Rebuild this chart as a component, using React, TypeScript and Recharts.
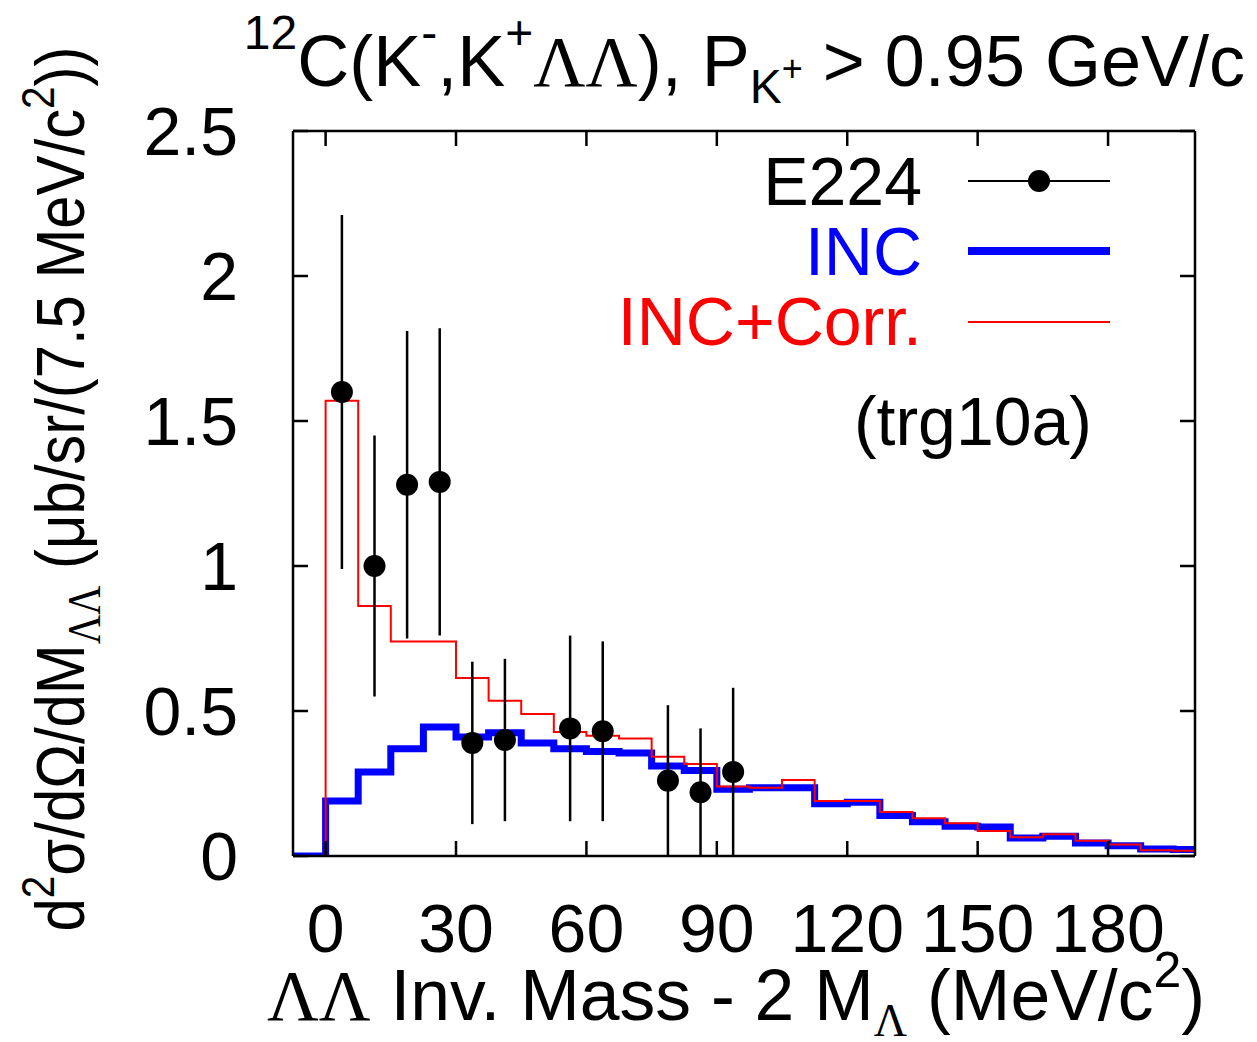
import React from 'react';
import { ComposedChart, Line, Scatter, ErrorBar, XAxis, YAxis } from 'recharts';

// histogram bin edges (MeV/c^2); last edge closes the final bin
const binEdges = [-7.5, 0, 7.5, 15, 22.5, 30, 37.5, 45, 52.5, 60, 67.5, 75, 82.5, 90, 97.5, 105, 112.5, 120, 127.5, 135, 142.5, 150, 157.5, 165, 172.5, 180, 187.5, 195, 200];
const incValues = [0, 0.19, 0.29, 0.37, 0.445, 0.41, 0.425, 0.39, 0.37, 0.36, 0.355, 0.31, 0.295, 0.23, 0.235, 0.235, 0.18, 0.185, 0.14, 0.118, 0.103, 0.1, 0.062, 0.068, 0.045, 0.035, 0.024, 0.022, 0.022];
const corrValues = [0, 1.57, 0.862, 0.74, 0.74, 0.614, 0.535, 0.49, 0.428, 0.415, 0.405, 0.342, 0.317, 0.24, 0.235, 0.262, 0.19, 0.19, 0.152, 0.13, 0.113, 0.086, 0.065, 0.075, 0.053, 0.04, 0.02, 0.018, 0.018];

// E224 data
const e224Mass = [3.75, 11.25, 18.75, 26.25, 33.75, 41.25, 56.25, 63.75, 78.75, 86.25, 93.75];
const e224Value = [1.6, 1.0, 1.28, 1.29, 0.39, 0.4, 0.44, 0.43, 0.26, 0.22, 0.29];
const e224Error = [0.61, 0.45, 0.53, 0.53, 0.28, 0.28, 0.32, 0.31, 0.26, 0.22, 0.29];

const xTicks = [0, 30, 60, 90, 120, 150, 180];
const yTicks = [0, 0.5, 1, 1.5, 2, 2.5];

const histData = binEdges.map((x, i) => ({ x, inc: incValues[i], corr: corrValues[i] }));
const e224Data = e224Mass.map((x, i) => ({ x, y: e224Value[i], err: e224Error[i] }));

const SANS = '"Liberation Sans", Arial, Helvetica, sans-serif';
const SERIF = '"Liberation Serif", "Times New Roman", serif';
const TICK = 15;
const AXIS_W = 2.5;

const BottomTick = (props: any) => {
  const { x, y, payload } = props;
  return (
    <g>
      <line x1={x} x2={x} y1={y} y2={y - TICK} stroke="#000" strokeWidth={AXIS_W} />
      <text x={x} y={y + 96} textAnchor="middle" fontSize={68} fontFamily={SANS} fill="#000">
        {payload.value}
      </text>
    </g>
  );
};

const TopTick = (props: any) => {
  const { x, y } = props;
  return <line x1={x} x2={x} y1={y} y2={y + TICK} stroke="#000" strokeWidth={AXIS_W} />;
};

const LeftTick = (props: any) => {
  const { x, y, payload } = props;
  return (
    <g>
      <line x1={x} x2={x + TICK} y1={y} y2={y} stroke="#000" strokeWidth={AXIS_W} />
      <text x={x - 55} y={y} dy="0.355em" textAnchor="end" fontSize={68} fontFamily={SANS} fill="#000">
        {payload.value}
      </text>
    </g>
  );
};

const RightTick = (props: any) => {
  const { x, y } = props;
  return <line x1={x} x2={x - TICK} y1={y} y2={y} stroke="#000" strokeWidth={AXIS_W} />;
};

const Dot = (props: any) => <circle cx={props.cx} cy={props.cy} r={11} fill="#000" />;

const Texts = () => (
  <svg width={1257} height={1042} style={{ position: 'absolute', left: 0, top: 0, pointerEvents: 'none' }}>
    {/* title */}
    <text x={1245} y={86} textAnchor="end" fontSize={72} fontFamily={SANS} fill="#000">
      <tspan fontSize={48} dy={-37}>12</tspan>
      <tspan dy={37}>C(K</tspan>
      <tspan fontSize={48} dy={-37}>-</tspan>
      <tspan dy={37}>,K</tspan>
      <tspan fontSize={48} dy={-37}>+</tspan>
      <tspan dy={37} fontFamily={SERIF}>ΛΛ</tspan>
      <tspan>), P</tspan>
      <tspan fontSize={48} dy={17}>K</tspan>
      <tspan fontSize={36} dy={-22}>+</tspan>
      <tspan dy={5}>{' > 0.95 GeV/c'}</tspan>
    </text>

    {/* x label */}
    <text x={736} y={1020} textAnchor="middle" fontSize={71.5} fontFamily={SANS} fill="#000">
      <tspan fontFamily={SERIF}>ΛΛ</tspan>
      <tspan>{' Inv. Mass - 2 M'}</tspan>
      <tspan fontFamily={SERIF} fontSize={46} dy={16}>Λ</tspan>
      <tspan dy={-16}>{' (MeV/c'}</tspan>
      <tspan fontSize={50} dy={-33}>2</tspan>
      <tspan dy={33}>)</tspan>
    </text>

    {/* y label */}
    <text
      transform="translate(84,489) rotate(-90) scale(0.88,1)"
      textAnchor="middle"
      fontSize={68}
      fontFamily={SANS}
      fill="#000"
    >
      <tspan>d</tspan>
      <tspan fontSize={46} dy={-30}>2</tspan>
      <tspan dy={30}>σ/dΩ/dM</tspan>
      <tspan fontFamily={SERIF} fontSize={46} dy={16}>ΛΛ</tspan>
      <tspan dy={-16}>{' (μb/sr/(7.5 MeV/c'}</tspan>
      <tspan fontSize={46} dy={-30}>2</tspan>
      <tspan dy={30}>))</tspan>
    </text>

    {/* legend */}
    <text x={922} y={205} textAnchor="end" fontSize={68} fontFamily={SANS} fill="#000">E224</text>
    <line x1={968} x2={1110} y1={181} y2={181} stroke="#000" strokeWidth={2} />
    <circle cx={1039} cy={181} r={11} fill="#000" />
    <text x={922} y={275} textAnchor="end" fontSize={68} fontFamily={SANS} fill="#0000ff">INC</text>
    <line x1={968} x2={1110} y1={251} y2={251} stroke="#0000ff" strokeWidth={8} />
    <text x={922} y={345} textAnchor="end" fontSize={68} fontFamily={SANS} fill="#ff0000">INC+Corr.</text>
    <line x1={968} x2={1110} y1={322} y2={322} stroke="#ff0000" strokeWidth={2} />
    <text x={1092} y={445} textAnchor="end" fontSize={68} fontFamily={SANS} fill="#000">(trg10a)</text>
  </svg>
);

export default function App() {
  return (
    <div style={{ position: 'absolute', left: 0, top: 0, width: 1257, height: 1042, background: '#fff' }}>
      <ComposedChart
        width={1257}
        height={1042}
        margin={{ top: 121, right: 52, bottom: 86, left: 93 }}
      >
        <XAxis
          dataKey="x"
          type="number"
          domain={[-7.5, 200]}
          ticks={xTicks}
          allowDataOverflow
          height={100}
          tickSize={0}
          tickMargin={0}
          tickLine={false}
          axisLine={{ stroke: '#000', strokeWidth: AXIS_W }}
          tick={<BottomTick />}
          interval={0}
        />
        <XAxis
          xAxisId="top"
          orientation="top"
          dataKey="x"
          type="number"
          domain={[-7.5, 200]}
          ticks={xTicks}
          allowDataOverflow
          height={10}
          tickSize={0}
          tickMargin={0}
          tickLine={false}
          axisLine={{ stroke: '#000', strokeWidth: AXIS_W }}
          tick={<TopTick />}
          interval={0}
        />
        <YAxis
          type="number"
          domain={[0, 2.5]}
          ticks={yTicks}
          allowDataOverflow
          width={200}
          tickSize={0}
          tickMargin={0}
          tickLine={false}
          axisLine={{ stroke: '#000', strokeWidth: AXIS_W }}
          tick={<LeftTick />}
          interval={0}
        />
        <YAxis
          yAxisId="right"
          orientation="right"
          type="number"
          domain={[0, 2.5]}
          ticks={yTicks}
          allowDataOverflow
          width={10}
          tickSize={0}
          tickMargin={0}
          tickLine={false}
          axisLine={{ stroke: '#000', strokeWidth: AXIS_W }}
          tick={<RightTick />}
          interval={0}
        />
        <Line
          data={histData}
          dataKey="inc"
          type="stepAfter"
          stroke="#0000ff"
          strokeWidth={7}
          strokeLinejoin="miter"
          dot={false}
          activeDot={false}
          isAnimationActive={false}
        />
        <Line
          data={histData}
          dataKey="corr"
          type="stepAfter"
          stroke="#ff0000"
          strokeWidth={2}
          strokeLinejoin="miter"
          dot={false}
          activeDot={false}
          isAnimationActive={false}
        />
        <Scatter data={e224Data} dataKey="y" fill="#000" shape={<Dot />} isAnimationActive={false}>
          <ErrorBar dataKey="err" direction="y" width={0} stroke="#000" strokeWidth={2.5} />
        </Scatter>
      </ComposedChart>
      <Texts />
    </div>
  );
}
